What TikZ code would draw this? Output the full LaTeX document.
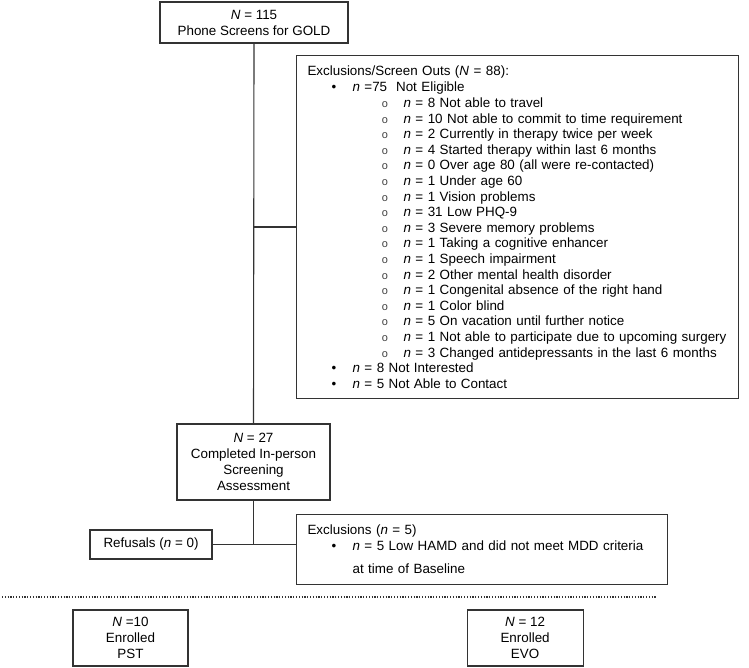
\documentclass[tikz,border=0pt]{standalone}
\usepackage{fontspec}
\setmainfont{Liberation Sans}
\newfontfamily\cmono{Liberation Mono}
\usetikzlibrary{positioning}

% list lines inside the exclusion boxes
\newcommand{\lone}[1]{\mbox{\hspace*{24pt}\makebox[21pt][l]{•}#1}}
\newcommand{\ltwo}[1]{\mbox{\hspace*{74pt}\makebox[22pt][l]{\textcolor{black!75}{\cmono\fontsize{11}{11}\selectfont o}}#1}}

\begin{document}
\begin{tikzpicture}[
  x=1pt, y=-1pt,
  box/.style={rectangle, draw=black!80, line width=1.1pt, align=center,
              inner sep=0pt, font=\fontsize{13.4}{16}\selectfont},
  listbox/.style={box, align=left, anchor=north west, inner xsep=11pt,
                  font=\fontsize{13.4}{15.6}\selectfont},
  link/.style={draw=black!80, line width=1.1pt},
  sep/.style={draw=black!80, line width=1.6pt, dash pattern=on 1.2pt off 1.6pt}
]
\useasboundingbox (0,0) rectangle (749,668);

\node[box, minimum width=188pt, minimum height=41pt] (screens) at (254,22.5)
  {\textit{N} = 115\\Phone Screens for GOLD};

\node[listbox, text width=420pt, minimum height=343pt] (exclusions) at (296,55)
  {Exclusions/Screen Outs (\textit{N} = 88):\\[1pt]
   \lone{\textit{n} =75\ \ Not Eligible}\\
   \ltwo{\textit{n} = 8 Not able to travel}\\
   \ltwo{\textit{n} = 10 Not able to commit to time requirement}\\
   \ltwo{\textit{n} = 2 Currently in therapy twice per week}\\
   \ltwo{\textit{n} = 4 Started therapy within last 6 months}\\
   \ltwo{\textit{n} = 0 Over age 80 (all were re-contacted)}\\
   \ltwo{\textit{n} = 1 Under age 60}\\
   \ltwo{\textit{n} = 1 Vision problems}\\
   \ltwo{\textit{n} = 31 Low PHQ-9}\\
   \ltwo{\textit{n} = 3 Severe memory problems}\\
   \ltwo{\textit{n} = 1 Taking a cognitive enhancer}\\
   \ltwo{\textit{n} = 1 Speech impairment}\\
   \ltwo{\textit{n} = 2 Other mental health disorder}\\
   \ltwo{\textit{n} = 1 Congenital absence of the right hand}\\
   \ltwo{\textit{n} = 1 Color blind}\\
   \ltwo{\textit{n} = 5 On vacation until further notice}\\
   \ltwo{\textit{n} = 1 Not able to participate due to upcoming surgery}\\
   \ltwo{\textit{n} = 3 Changed antidepressants in the last 6 months}\\
   \lone{\textit{n} = 8 Not Interested}\\
   \lone{\textit{n} = 5 Not Able to Contact}};

\node[box, minimum width=153pt, minimum height=76pt] (inperson) at (253.5,462)
  {\textit{N} = 27\\Completed In-person\\Screening\\Assessment};

\node[box, minimum width=122pt, minimum height=29pt] (refusals) at (151,544.5)
  {Refusals (\textit{n} = 0)};

\node[listbox, text width=349pt, minimum height=70pt] (baseline) at (296,514)
  {Exclusions (\textit{n} = 5)\\
   \lone{\textit{n} = 5 Low HAMD and did not meet MDD criteria}\\[8pt]
   \hspace*{45pt}at time of Baseline};

\node[box, minimum width=115pt, minimum height=56pt] (pst) at (130.5,638)
  {\textit{N} =10\\Enrolled\\PST};
\node[box, minimum width=116pt, minimum height=56pt, right=278pt of pst] (evo)
  {\textit{N} = 12\\Enrolled\\EVO};

\coordinate (split) at (inperson.south |- refusals.east);

\draw[link] (screens.south) -- (inperson.north);
\draw[link] (screens.south |- exclusions.west) -- (exclusions.west);
\draw[link] (inperson.south) -- (split);
\draw[link] (refusals.east) -- (refusals.east -| baseline.west);

\coordinate (sepL) at (2,597);
\coordinate (sepR) at (656,597);
\draw[sep] (sepL) -- (sepR);

\end{tikzpicture}
\end{document}
